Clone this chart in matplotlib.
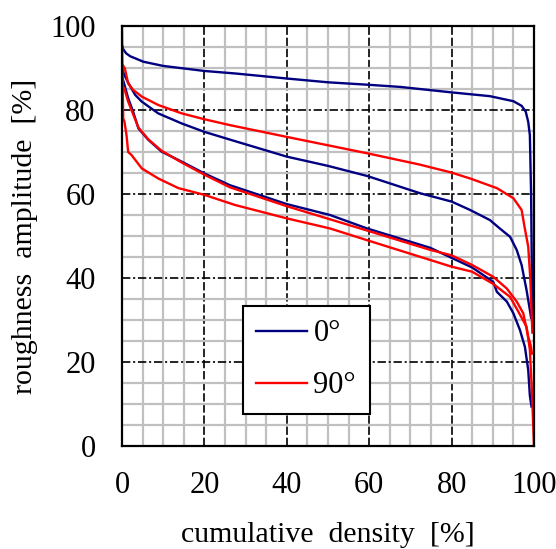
import matplotlib
matplotlib.use('Agg')
import matplotlib.pyplot as plt
from matplotlib.ticker import MultipleLocator

# 0 deg curves (blue)
b1_x = [0, 0.3, 1, 2, 5.2, 10, 20, 27.5, 35.9, 40, 50, 60, 67.5, 80, 89.3, 95, 97, 98, 98.6, 99, 99.3, 99.5, 99.7]
b1_y = [95.5, 94.5, 93.5, 92.8, 91.5, 90.5, 89.3, 88.7, 87.9, 87.5, 86.6, 86.0, 85.5, 84.2, 83.3, 82.1, 81, 79.6, 77.2, 74, 60, 40, 31]

b2_x = [0, 0.5, 1.5, 3.2, 4.8, 8.8, 14.5, 20, 27.4, 40, 50, 59.5, 72.3, 80, 84.5, 89.3, 91.7, 94.2, 95.8, 97, 98.2, 99, 99.3]
b2_y = [90, 88.5, 86.5, 83.6, 82, 79.2, 76.8, 74.8, 72.6, 68.9, 66.7, 64.3, 60.2, 58.2, 56.2, 53.8, 51.8, 49.8, 46.7, 43.1, 37.1, 32.4, 30.5]

b3_x = [0, 0.6, 1.5, 2.7, 4, 6.4, 9.6, 14.5, 20, 26.2, 40, 50.5, 59.5, 74.8, 80, 85, 90.1, 91, 93.4, 95, 96.6, 97.8, 98.6, 99, 99.4]
b3_y = [88, 86, 82.8, 79.6, 75.6, 72.9, 70.1, 67.7, 64.9, 62.1, 57.6, 55, 51.8, 47.2, 44.8, 42.5, 39.1, 36.7, 34.4, 31.6, 27.6, 23.6, 18.1, 12, 9.4]

# 90 deg curves (red)
r1_x = [0, 0.7, 1.5, 2.7, 4.8, 8.8, 14.5, 20, 26.2, 40, 59.5, 72.3, 80, 84.5, 91, 95, 97, 97.7, 98.6, 99.1, 99.4, 99.6]
r1_y = [91, 89.9, 86.3, 84.8, 83.2, 81.2, 79.2, 77.8, 76.4, 73.6, 69.7, 67, 65.1, 63.7, 61.4, 59, 56.2, 52.2, 47.5, 40, 32.4, 27]

r2_x = [0, 0.6, 1.5, 2.7, 4, 6.4, 9.6, 14.5, 20, 26.2, 40, 59.5, 74.8, 80, 85, 90.1, 93.4, 95.8, 97.4, 98.6, 99.2, 99.5]
r2_y = [86, 85, 82, 79, 75.8, 73, 70.3, 67.5, 64.6, 61.6, 57.1, 51.3, 46.7, 45.4, 43.1, 40.3, 37.5, 34.4, 31.6, 26, 24, 22]

r3_x = [0, 0.1, 0.3, 0.6, 1.1, 1.5, 2.3, 4.8, 8.8, 13.7, 20, 27.4, 40, 50.5, 59.5, 74.8, 80, 85, 90.1, 94.2, 96.2, 98.2, 99, 99.4, 99.7, 100]
r3_y = [100, 90, 78, 77.2, 74, 70, 69.3, 66.1, 63.7, 61.4, 59.8, 57.4, 54.2, 51.8, 49, 44.3, 42.7, 41.5, 38.6, 35.5, 32, 28.4, 22.9, 15, 8, 0]

legend_labels = ['0°', '90°']
ticks = [0, 20, 40, 60, 80, 100]

plt.rcParams['font.family'] = ['Liberation Serif', 'DejaVu Serif']
plt.rcParams['lines.scale_dashes'] = False

fig = plt.figure(figsize=(5.56, 5.49), dpi=100)
ax = fig.add_axes([0.2194, 0.1876, 0.741, 0.765])

blue = '#000080'
red = '#FF0000'
ax.plot(b1_x, b1_y, color=blue, lw=1.7, label=legend_labels[0])
ax.plot(b2_x, b2_y, color=blue, lw=1.7)
ax.plot(b3_x, b3_y, color=blue, lw=1.7)
ax.plot(r1_x, r1_y, color=red, lw=1.7, label=legend_labels[1])
ax.plot(r2_x, r2_y, color=red, lw=1.7)
ax.plot(r3_x, r3_y, color=red, lw=1.7)

ax.set_xlim(0, 100)
ax.set_ylim(0, 100)
ax.set_xticks(ticks)
ax.set_yticks(ticks)
ax.xaxis.set_minor_locator(MultipleLocator(5))
ax.yaxis.set_minor_locator(MultipleLocator(5))
ax.tick_params(which='both', length=0)
ax.tick_params(axis='x', pad=18, labelsize=22)
ax.tick_params(axis='y', pad=19, labelsize=22)

ax.set_axisbelow(True)
ax.grid(which='minor', color='#C0C0C0', lw=1.6, ls='-')
ax.xaxis.grid(which='major', color='black', lw=1.2, dashes=(6, 2))
ax.yaxis.grid(which='major', color='black', lw=1.2, dashes=(6, 2, 1.5, 2))

for s in ax.spines.values():
    s.set_linewidth(1.6)
    s.set_color('black')

ax.set_xlabel('cumulative  density  [%]', fontsize=21.5)
ax.set_ylabel('roughness  amplitude  [%]', fontsize=21.5)
ax.xaxis.set_label_coords(0.5, -0.18)
ax.yaxis.set_label_coords(-0.204, 0.5)

leg = ax.legend(loc='center', bbox_to_anchor=(0.447, 0.205), fontsize=22,
                handlelength=1.67, handletextpad=0.2, labelspacing=0.75,
                borderpad=0.45, fancybox=False, framealpha=1, edgecolor='black')
leg.get_frame().set_linewidth(1.5)

fig.savefig('out.png', dpi=100)
